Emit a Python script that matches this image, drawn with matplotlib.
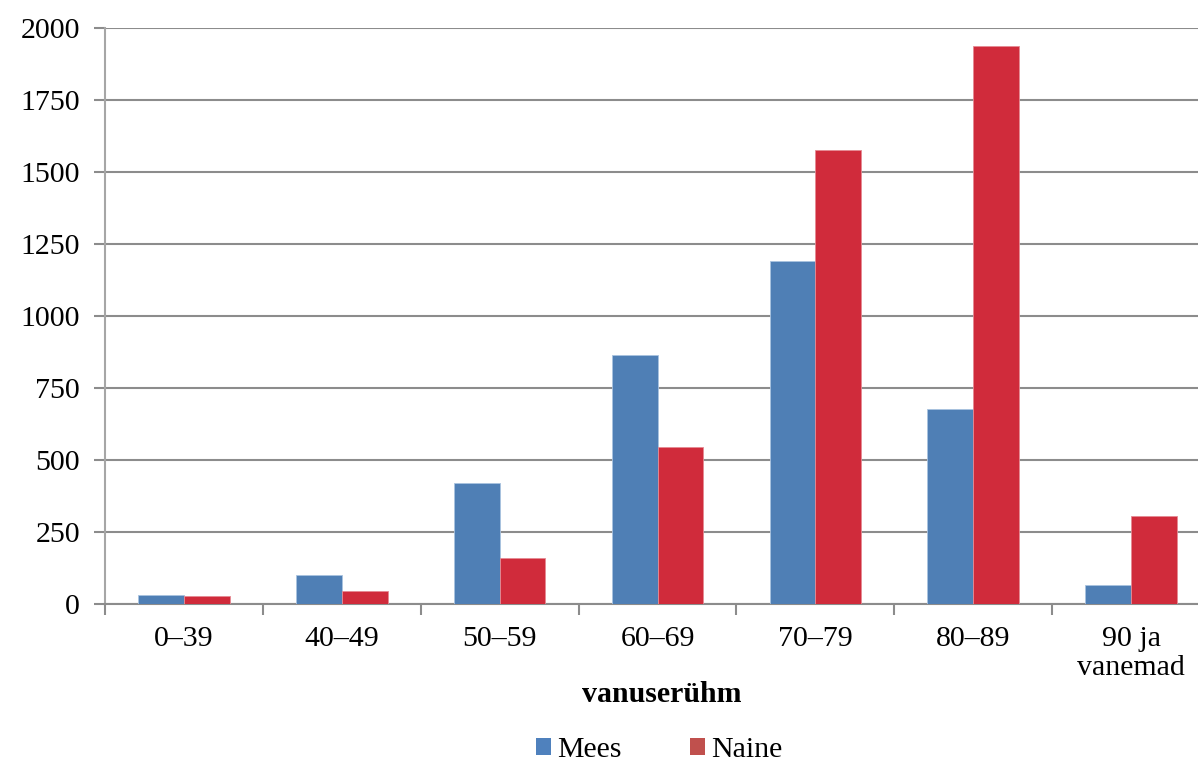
import matplotlib
matplotlib.use("Agg")
import matplotlib.pyplot as plt
import numpy as np
from matplotlib.patches import Patch

categories = ["0–39", "40–49", "50–59", "60–69", "70–79", "80–89", "90 ja\nvanemad"]
mees = [31, 100, 420, 865, 1191, 677, 66]
naine = [28, 45, 160, 545, 1576, 1937, 305]
yticks = [0, 250, 500, 750, 1000, 1250, 1500, 1750, 2000]

plt.rcParams['font.family'] = ['Liberation Serif', 'DejaVu Serif']
FS = 21.5

fig = plt.figure(figsize=(11.98, 7.64), dpi=100)
ax = fig.add_axes([105/1198, 1-604/764, (1210-105)/1198, (604-28)/764])

x = np.arange(len(categories))
w = 0.29
ax.bar(x - w/2, mees, w, color="#4F7FB5", edgecolor="#A9C3E0", linewidth=0.6, zorder=3)
ax.bar(x + w/2, naine, w, color="#D02B3B", edgecolor="#E58A93", linewidth=0.6, zorder=3)

ax.set_xlim(-0.5, len(categories) - 0.5)
ax.set_ylim(0, 2000)
ax.set_yticks(yticks)
ax.set_yticklabels([str(v) for v in yticks], fontsize=FS)
ax.yaxis.grid(True, color="#8C8C8C", linewidth=1.5, zorder=0)
ax.set_axisbelow(True)

ax.set_xticks(x)
ax.set_xticklabels(categories, fontsize=FS, linespacing=1.15, va='top')
ax.tick_params(axis='x', which='major', length=0, pad=16)
ax.set_xticks(np.arange(-0.5, len(categories) - 0.5, 1.0), minor=True)
ax.tick_params(axis='x', which='minor', length=8, width=1.5, color="#8C8C8C", direction='out')
ax.tick_params(axis='y', length=8, width=1.5, color="#8C8C8C", direction='out', pad=10)

for s in ['top', 'right']:
    ax.spines[s].set_visible(False)
ax.spines['left'].set_color("#A6A6A6")
ax.spines['left'].set_linewidth(1.5)
ax.spines['bottom'].set_color("#8C8C8C")
ax.spines['bottom'].set_linewidth(1.5)

fig.text(662/1198, 1-695/764, "vanuserühm", fontsize=FS, fontweight='bold', ha='center', va='center')

handles = [Patch(facecolor="#4F81BD", edgecolor="none"), Patch(facecolor="#C0504D", edgecolor="none")]
fig.legend(handles, ["Mees", "Naine"], loc='center', bbox_to_anchor=(659/1198, 1-750/764),
           ncol=2, frameon=False, fontsize=FS, handlelength=0.5, handleheight=0.5,
           handletextpad=0.2, columnspacing=2.3, borderpad=0)

fig.savefig("out.png", dpi=100)
